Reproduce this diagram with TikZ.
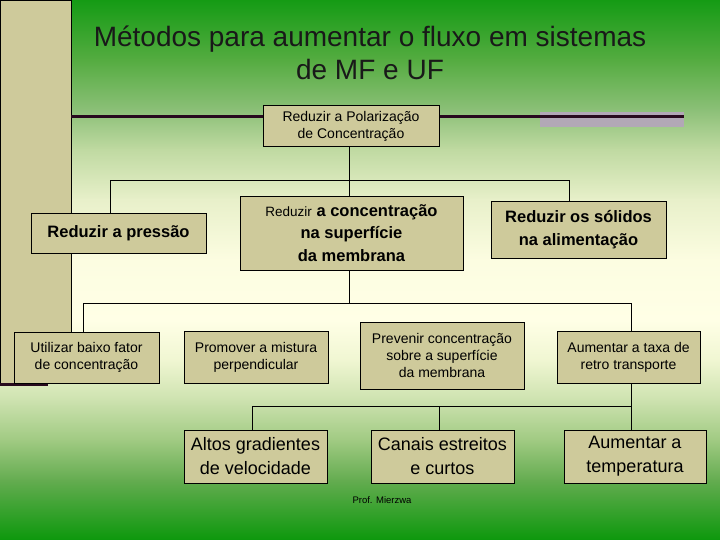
\documentclass[tikz,border=0pt]{standalone}
\usepackage{fontspec}
\setmainfont{Liberation Sans}
\definecolor{boxfill}{RGB}{206,202,155}
\definecolor{darkline}{RGB}{40,10,30}
\definecolor{band}{RGB}{178,168,182}
\definecolor{titlecol}{RGB}{25,25,25}
\definecolor{g0}{RGB}{20,155,20}
\definecolor{g1}{RGB}{85,172,65}
\definecolor{g2}{RGB}{140,192,120}
\definecolor{g3}{RGB}{192,218,162}
\definecolor{g4}{RGB}{232,240,202}
\definecolor{g5}{RGB}{252,253,225}
\definecolor{g6}{RGB}{255,255,230}
\definecolor{g7}{RGB}{240,246,210}
\definecolor{g8}{RGB}{205,226,175}
\definecolor{g9}{RGB}{160,202,130}
\definecolor{g10}{RGB}{100,172,80}
\definecolor{g11}{RGB}{12,152,12}
\tikzset{
  box/.style={draw=black, line width=0.8pt, fill=boxfill, inner sep=0pt, align=center, text=black},
  conn/.style={draw=black, line width=0.8pt},
  fsmall/.style={font=\fontsize{14}{17}\selectfont},
  fmid/.style={font=\bfseries\fontsize{16.5}{22.5}\selectfont},
  fbig/.style={font=\fontsize{18}{24}\selectfont},
}
\begin{document}
\begin{tikzpicture}[x=1pt,y=-1pt]
\useasboundingbox (0,0) rectangle (720,540);
% background
\fill[top color=g0, bottom color=g1] (0,-0.5) rectangle (720,60.5);
\fill[top color=g1, bottom color=g2] (0,60) rectangle (720,110.5);
\fill[top color=g2, bottom color=g3] (0,110) rectangle (720,150.5);
\fill[top color=g3, bottom color=g4] (0,150) rectangle (720,200.5);
\fill[top color=g4, bottom color=g5] (0,200) rectangle (720,260.5);
\fill[top color=g5, bottom color=g6] (0,260) rectangle (720,320.5);
\fill[top color=g6, bottom color=g7] (0,320) rectangle (720,360.5);
\fill[top color=g7, bottom color=g8] (0,360) rectangle (720,400.5);
\fill[top color=g8, bottom color=g9] (0,400) rectangle (720,440.5);
\fill[top color=g9, bottom color=g10] (0,440) rectangle (720,480.5);
\fill[top color=g10, bottom color=g11] (0,480) rectangle (720,540.5);
% left panel and rules
\draw[black, line width=0.8pt, fill=boxfill] (0,0) rectangle (71,383);
\draw[darkline, line width=3pt] (0,384.5) -- (48,384.5);
\fill[band] (540,112) rectangle (684,127);
\draw[darkline, line width=3pt] (71,117) -- (684,117);
% title
\node[font=\fontsize{28}{33.5}\selectfont, text=titlecol, align=center] (title) at (370,53)
  {Métodos para aumentar o fluxo em sistemas\\de MF e UF};
% boxes
\node[box, fsmall, minimum width=176pt, minimum height=41pt] (top) at (351,126)
  {Reduzir a Polarização\\de Concentração};
\node[box, fmid, minimum width=175pt, minimum height=40pt] (pres) at (118.5,233)
  {Reduzir a pressão};
\node[box, fmid, minimum width=223pt, minimum height=74pt] (conc) at (351.5,233)
  {{\mdseries\fontsize{13.5}{22.5}\selectfont Reduzir} a concentração\\na superfície\\da membrana};
\node[box, fmid, minimum width=175pt, minimum height=57pt] (sol) at (578.5,229.5)
  {Reduzir os sólidos\\na alimentação};
\node[box, fsmall, minimum width=145pt, minimum height=51pt] (util) at (86.5,357.5)
  {Utilizar baixo fator\\de concentração};
\node[box, fsmall, minimum width=144pt, minimum height=52pt] (prom) at (256,357)
  {Promover a mistura\\perpendicular};
\node[box, fsmall, minimum width=164pt, minimum height=67pt] (prev) at (442,355.5)
  {Prevenir concentração\\sobre a superfície\\da membrana};
\node[box, fsmall, minimum width=143pt, minimum height=52pt] (taxa) at (628.5,357)
  {Aumentar a taxa de\\retro transporte};
\node[box, fbig, minimum width=143pt, minimum height=53pt] (altos) at (255.5,456.5)
  {Altos gradientes\\de velocidade};
\node[box, fbig, minimum width=143pt, minimum height=53pt] (canais) at (442.5,456.5)
  {Canais estreitos\\e curtos};
\node[box, fbig, minimum width=142pt, minimum height=53pt] (temp) at (635,456.5)
  {Aumentar a\\temperatura};
\node[font=\fontsize{9.5}{11}\selectfont, text=black] (prof) at (382,500) {Prof. Mierzwa};
% connectors
\coordinate (j0) at (349,180);
\coordinate (jl) at (110,180);
\coordinate (jr) at (569,180);
\draw[conn] (j0 |- top.south) -- (j0);
\draw[conn] (jl |- pres.north) -- (jl) -- (jr) -- (jr |- sol.north);
\draw[conn] (j0) -- (j0 |- conc.north);
\coordinate (k0) at (349,303);
\coordinate (kl) at (83,303);
\coordinate (kr) at (631,303);
\draw[conn] (j0 |- conc.south) -- (k0);
\draw[conn] (kl |- util.north) -- (kl) -- (kr) -- (kr |- taxa.north);
\coordinate (m) at (631,406);
\coordinate (ml) at (252,406);
\coordinate (mc) at (439,406);
\draw[conn] (kr |- taxa.south) -- (m |- temp.north);
\draw[conn] (ml |- altos.north) -- (ml) -- (m);
\draw[conn] (mc) -- (mc |- canais.north);
\end{tikzpicture}
\end{document}
